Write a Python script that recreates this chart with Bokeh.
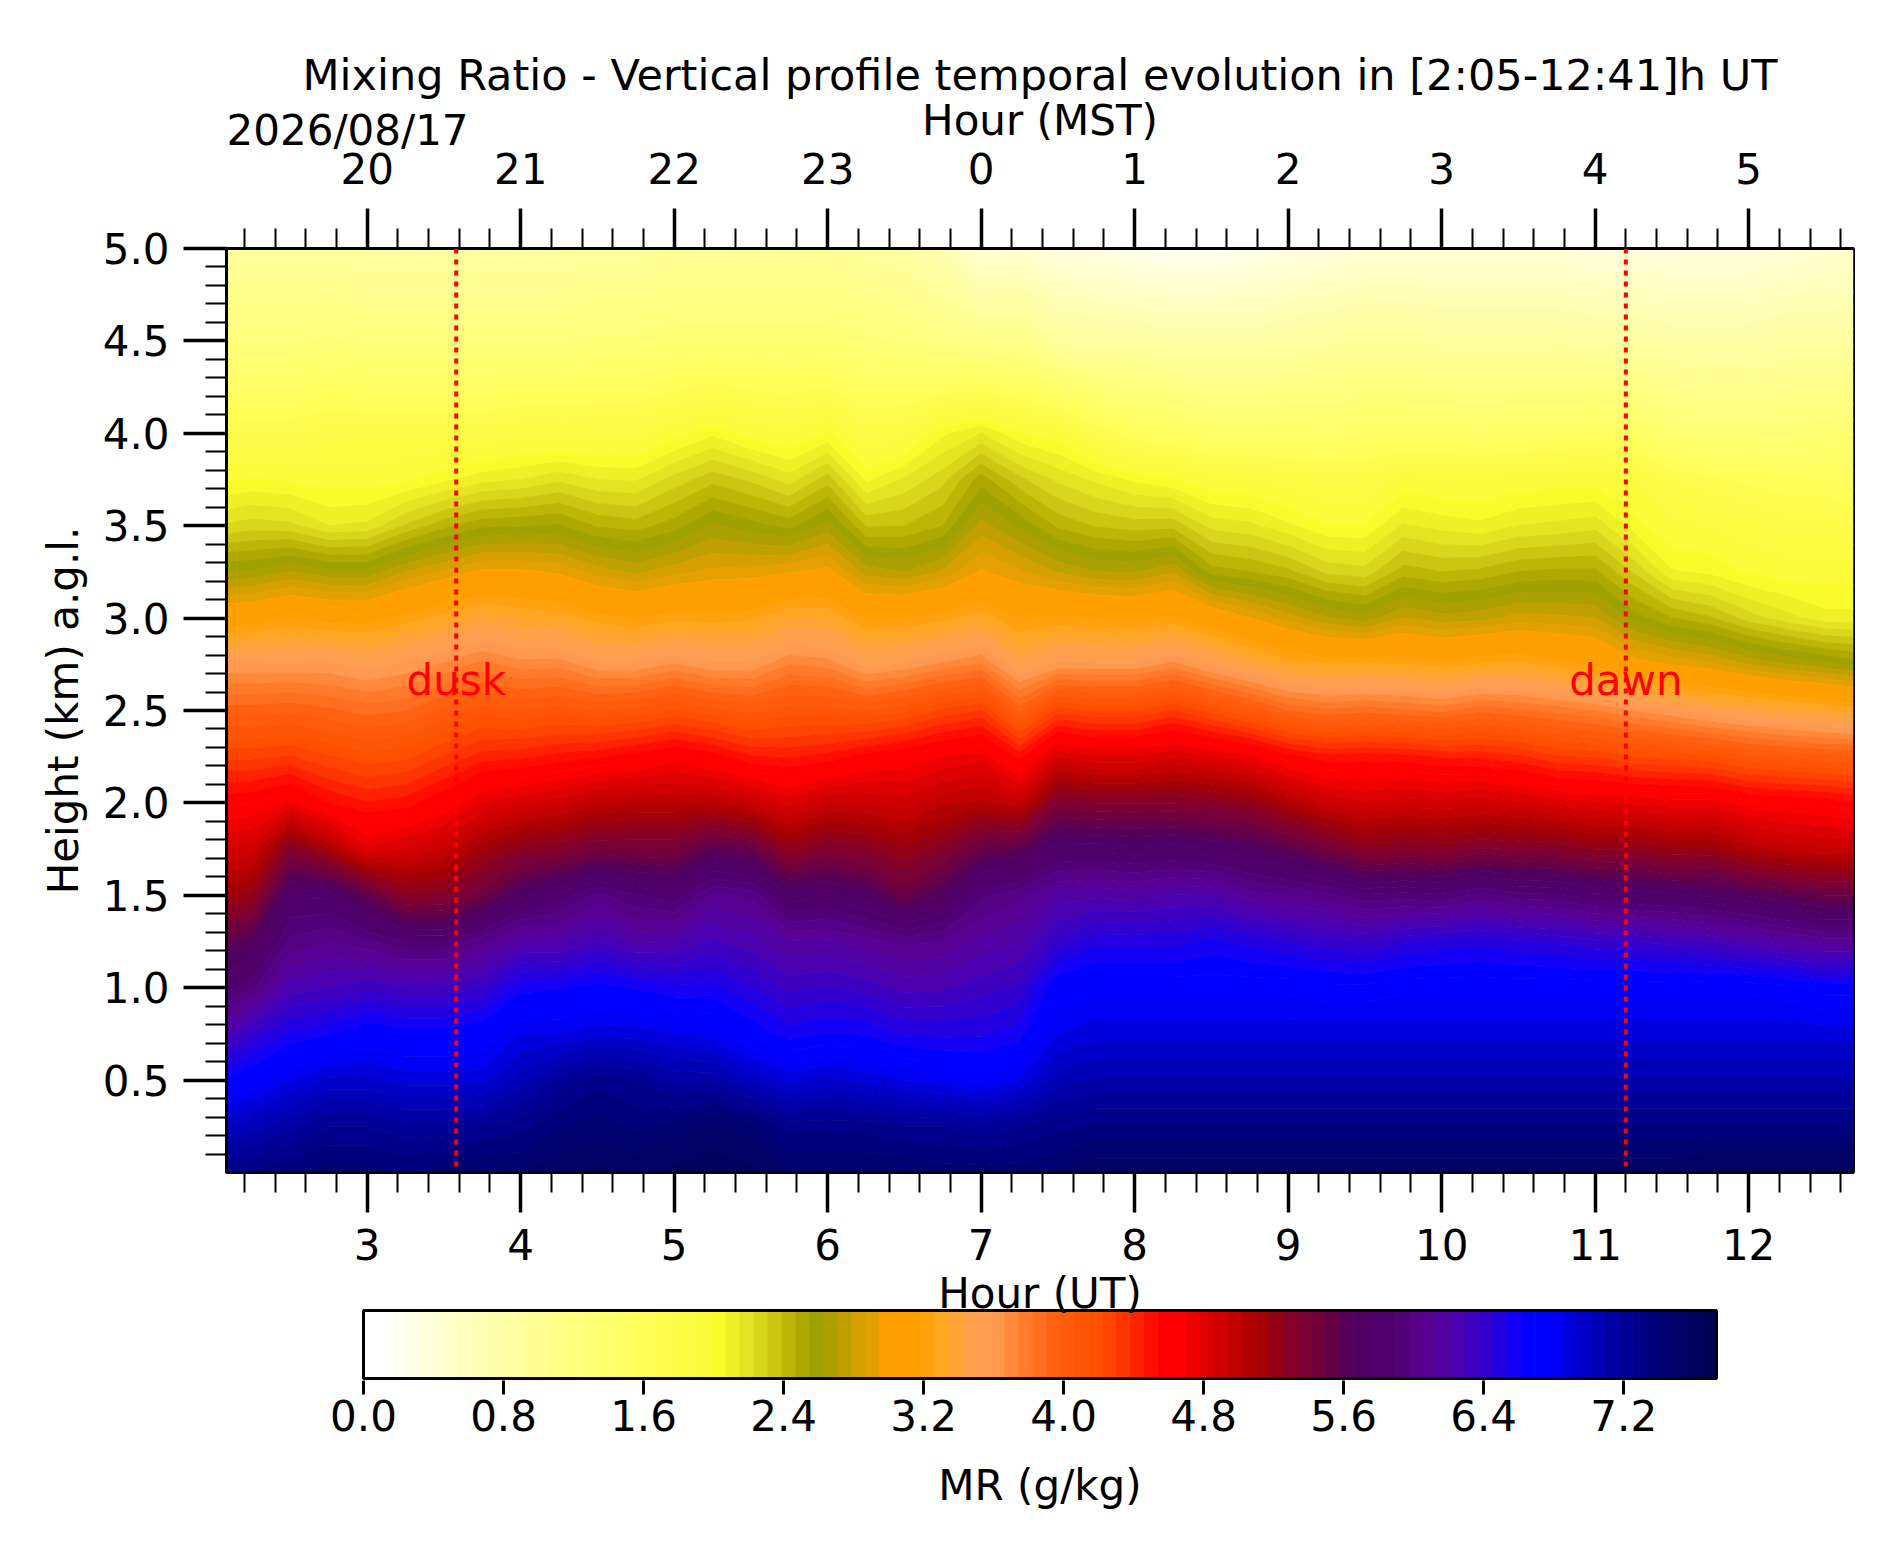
import numpy as np
from bokeh.plotting import figure
from bokeh.layouts import column
from bokeh.models import FixedTicker, LinearAxis, Span, Title, PrintfTickFormatter
from bokeh.core.properties import value
from bokeh.embed import file_html
from bokeh.resources import INLINE

FONT = "DejaVu Sans"
FS = "42px"
TITLE_FS = "43px"

# time of each lidar profile (h UT) and the height grid (km a.g.l.)
times_ut = [2.083, 2.25, 2.5, 2.75, 3.0, 3.25, 3.5, 3.75, 4.0, 4.25, 4.5, 4.75,
            5.0, 5.25, 5.5, 5.75, 6.0, 6.25, 6.5, 6.75, 7.0, 7.25, 7.5, 7.75,
            8.0, 8.25, 8.5, 8.75, 9.0, 9.25, 9.5, 9.75, 10.0, 10.25, 10.5, 10.75,
            11.0, 11.25, 11.5, 11.75, 12.0, 12.25, 12.5, 12.683]
heights_km = [0.0, 0.25, 0.5, 0.75, 1.0, 1.25, 1.5, 1.75, 2.0, 2.25, 2.5, 2.75,
              3.0, 3.25, 3.5, 3.75, 4.0, 4.5, 5.0]

# mixing ratio profiles (g/kg), bottom to top, one per time above
p0205 = [7.30, 7.00, 6.65, 6.25, 5.85, 5.55, 5.16, 4.88, 4.60, 4.28, 3.94, 3.60, 3.09, 2.63, 2.24, 1.98, 1.75, 1.25, 0.90]
p0215 = [7.35, 7.05, 6.70, 6.40, 5.95, 5.64, 5.20, 4.90, 4.62, 4.28, 3.94, 3.60, 3.11, 2.64, 2.27, 2.00, 1.75, 1.25, 0.90]
p0230 = [7.40, 7.15, 6.85, 6.55, 6.25, 6.00, 5.80, 5.33, 4.71, 4.31, 3.96, 3.60, 3.18, 2.71, 2.25, 1.98, 1.75, 1.25, 0.90]
p0245 = [7.45, 7.25, 6.95, 6.60, 6.30, 6.05, 5.80, 5.10, 4.54, 4.23, 3.92, 3.60, 3.14, 2.65, 2.15, 1.95, 1.80, 1.30, 0.90]
p0300 = [7.45, 7.25, 6.95, 6.70, 6.35, 5.99, 5.55, 4.80, 4.47, 4.17, 3.87, 3.55, 3.13, 2.65, 2.17, 1.95, 1.80, 1.25, 0.85]
p0315 = [7.40, 7.20, 6.90, 6.65, 6.31, 5.89, 5.28, 4.87, 4.50, 4.20, 3.90, 3.60, 3.22, 2.79, 2.32, 1.98, 1.80, 1.25, 0.85]
p0330 = [7.45, 7.20, 6.90, 6.65, 6.31, 5.89, 5.30, 4.95, 4.62, 4.31, 4.00, 3.68, 3.30, 2.88, 2.44, 2.05, 1.80, 1.25, 0.85]
p0345 = [7.50, 7.25, 6.90, 6.70, 6.38, 6.04, 5.46, 5.15, 4.78, 4.42, 4.10, 3.77, 3.40, 2.97, 2.53, 2.12, 1.80, 1.25, 0.85]
p0400 = [7.50, 7.30, 7.05, 6.85, 6.58, 6.20, 5.72, 5.27, 4.85, 4.44, 4.07, 3.70, 3.34, 2.97, 2.54, 2.15, 1.85, 1.25, 0.85]
p0415 = [7.55, 7.40, 7.20, 6.85, 6.60, 6.20, 5.84, 5.32, 4.91, 4.49, 4.10, 3.71, 3.32, 2.93, 2.56, 2.21, 1.85, 1.25, 0.85]
p0430 = [7.60, 7.45, 7.30, 6.90, 6.65, 6.30, 6.00, 5.42, 5.00, 4.52, 4.06, 3.60, 3.22, 2.83, 2.46, 2.15, 1.85, 1.30, 0.90]
p0445 = [7.55, 7.40, 7.25, 6.90, 6.60, 6.20, 5.90, 5.42, 5.02, 4.58, 4.09, 3.60, 3.18, 2.77, 2.43, 2.14, 1.85, 1.30, 0.90]
p0500 = [7.60, 7.45, 7.15, 6.85, 6.55, 6.21, 5.84, 5.42, 5.02, 4.64, 4.16, 3.67, 3.23, 2.84, 2.51, 2.26, 1.95, 1.35, 0.95]
p0515 = [7.65, 7.50, 7.15, 6.80, 6.56, 6.31, 6.07, 5.59, 5.02, 4.58, 4.09, 3.60, 3.22, 2.89, 2.64, 2.36, 2.05, 1.35, 0.95]
p0530 = [7.60, 7.45, 7.00, 6.68, 6.46, 6.25, 6.03, 5.52, 4.94, 4.47, 4.04, 3.60, 3.24, 2.90, 2.58, 2.29, 1.95, 1.35, 0.95]
p0545 = [7.50, 7.30, 6.90, 6.57, 6.35, 6.14, 5.76, 5.23, 4.83, 4.45, 4.10, 3.74, 3.35, 2.94, 2.52, 2.19, 1.90, 1.35, 0.95]
p0600 = [7.50, 7.30, 6.95, 6.62, 6.38, 6.15, 5.79, 5.34, 4.94, 4.49, 4.10, 3.71, 3.34, 2.98, 2.66, 2.35, 2.00, 1.35, 0.95]
p0615 = [7.50, 7.30, 6.90, 6.60, 6.34, 6.09, 5.69, 5.29, 4.94, 4.58, 4.06, 3.55, 3.17, 2.75, 2.38, 2.05, 1.80, 1.30, 0.90]
p0630 = [7.50, 7.25, 6.85, 6.52, 6.27, 6.03, 5.50, 5.19, 4.90, 4.63, 4.13, 3.60, 3.18, 2.71, 2.39, 2.16, 1.85, 1.25, 0.85]
p0645 = [7.45, 7.25, 6.80, 6.51, 6.28, 6.06, 5.67, 5.31, 5.00, 4.70, 4.24, 3.68, 3.23, 2.80, 2.47, 2.28, 2.05, 1.15, 0.70]
p0700 = [7.45, 7.20, 6.75, 6.52, 6.34, 6.16, 5.95, 5.52, 5.04, 4.74, 4.31, 3.75, 3.32, 2.96, 2.74, 2.51, 2.15, 1.10, 0.40]
p0715 = [7.45, 7.25, 6.85, 6.57, 6.39, 6.21, 6.03, 5.58, 4.96, 4.51, 3.95, 3.48, 3.17, 2.88, 2.61, 2.33, 2.00, 1.10, 0.45]
p0730 = [7.50, 7.30, 7.05, 6.85, 6.70, 6.40, 6.17, 5.79, 5.36, 4.86, 4.26, 3.60, 3.20, 2.78, 2.45, 2.21, 1.95, 0.90, 0.35]
p0745 = [7.55, 7.35, 7.10, 6.90, 6.75, 6.50, 6.20, 5.79, 5.33, 4.79, 4.21, 3.60, 3.18, 2.71, 2.38, 2.13, 1.75, 0.85, 0.30]
p0800 = [7.55, 7.35, 7.10, 6.90, 6.75, 6.50, 6.18, 5.77, 5.33, 4.79, 4.21, 3.60, 3.16, 2.70, 2.35, 2.05, 1.60, 0.85, 0.25]
p0815 = [7.55, 7.35, 7.10, 6.90, 6.75, 6.50, 6.22, 5.79, 5.33, 4.85, 4.31, 3.69, 3.20, 2.78, 2.36, 2.00, 1.55, 0.80, 0.20]
p0830 = [7.55, 7.35, 7.10, 6.90, 6.75, 6.55, 6.22, 5.74, 5.30, 4.79, 4.18, 3.55, 3.08, 2.51, 2.20, 1.92, 1.45, 0.80, 0.20]
p0845 = [7.55, 7.35, 7.10, 6.90, 6.75, 6.50, 6.10, 5.67, 5.24, 4.72, 4.05, 3.43, 2.95, 2.47, 2.17, 1.90, 1.45, 0.80, 0.25]
p0900 = [7.55, 7.35, 7.10, 6.90, 6.75, 6.45, 6.05, 5.58, 5.07, 4.57, 3.90, 3.32, 2.83, 2.41, 2.09, 1.85, 1.45, 0.85, 0.30]
p0915 = [7.55, 7.35, 7.10, 6.90, 6.72, 6.40, 6.00, 5.44, 4.93, 4.49, 3.84, 3.27, 2.72, 2.29, 2.00, 1.80, 1.45, 0.90, 0.35]
p0930 = [7.55, 7.35, 7.10, 6.90, 6.72, 6.37, 5.91, 5.28, 4.87, 4.50, 3.87, 3.27, 2.66, 2.26, 2.00, 1.80, 1.50, 0.95, 0.40]
p0945 = [7.55, 7.35, 7.10, 6.90, 6.75, 6.44, 5.93, 5.32, 4.90, 4.49, 3.84, 3.27, 2.79, 2.43, 2.16, 1.93, 1.50, 0.95, 0.40]
p1000 = [7.55, 7.35, 7.10, 6.90, 6.75, 6.48, 5.91, 5.29, 4.89, 4.45, 3.80, 3.22, 2.74, 2.39, 2.12, 1.90, 1.50, 0.90, 0.40]
p1015 = [7.55, 7.35, 7.10, 6.90, 6.75, 6.50, 6.00, 5.35, 4.91, 4.44, 3.88, 3.27, 2.76, 2.41, 2.09, 1.90, 1.45, 0.90, 0.40]
p1030 = [7.55, 7.35, 7.10, 6.90, 6.75, 6.46, 5.93, 5.33, 4.88, 4.40, 3.84, 3.29, 2.82, 2.47, 2.15, 1.93, 1.50, 0.90, 0.40]
p1045 = [7.55, 7.35, 7.10, 6.90, 6.75, 6.44, 5.92, 5.32, 4.82, 4.31, 3.79, 3.23, 2.81, 2.49, 2.17, 1.95, 1.50, 0.90, 0.40]
p1100 = [7.55, 7.35, 7.10, 6.90, 6.75, 6.39, 5.84, 5.25, 4.79, 4.29, 3.74, 3.16, 2.79, 2.49, 2.20, 1.95, 1.55, 0.85, 0.35]
p1115 = [7.55, 7.35, 7.10, 6.90, 6.75, 6.38, 5.79, 5.25, 4.76, 4.22, 3.66, 3.00, 2.59, 2.30, 2.03, 1.90, 1.50, 0.85, 0.35]
p1130 = [7.55, 7.35, 7.10, 6.90, 6.75, 6.34, 5.76, 5.19, 4.74, 4.19, 3.59, 2.94, 2.47, 2.08, 1.92, 1.75, 1.35, 0.80, 0.35]
p1145 = [7.60, 7.35, 7.10, 6.90, 6.75, 6.29, 5.72, 5.19, 4.74, 4.16, 3.50, 2.88, 2.40, 2.05, 1.90, 1.70, 1.30, 0.80, 0.35]
p1200 = [7.60, 7.35, 7.10, 6.90, 6.75, 6.23, 5.65, 5.06, 4.65, 4.08, 3.45, 2.78, 2.27, 1.98, 1.85, 1.65, 1.30, 0.80, 0.35]
p1215 = [7.60, 7.35, 7.10, 6.90, 6.72, 6.16, 5.58, 4.98, 4.62, 4.04, 3.39, 2.71, 2.18, 1.95, 1.80, 1.60, 1.30, 0.85, 0.40]
p1230 = [7.60, 7.35, 7.10, 6.90, 6.65, 6.10, 5.50, 4.95, 4.60, 4.00, 3.35, 2.65, 2.10, 1.95, 1.80, 1.60, 1.35, 0.85, 0.45]
p1241 = [7.60, 7.35, 7.10, 6.90, 6.65, 6.10, 5.50, 4.95, 4.55, 4.00, 3.30, 2.60, 2.10, 1.95, 1.75, 1.55, 1.35, 0.85, 0.45]

profiles = [p0205, p0215, p0230, p0245, p0300, p0315, p0330, p0345, p0400, p0415,
            p0430, p0445, p0500, p0515, p0530, p0545, p0600, p0615, p0630, p0645,
            p0700, p0715, p0730, p0745, p0800, p0815, p0830, p0845, p0900, p0915,
            p0930, p0945, p1000, p1015, p1030, p1045, p1100, p1115, p1130, p1145,
            p1200, p1215, p1230, p1241]

# axis ticks / labels
ut_major = [3, 4, 5, 6, 7, 8, 9, 10, 11, 12]
mst_labels = ["20", "21", "22", "23", "0", "1", "2", "3", "4", "5"]
height_ticks = [0.5, 1.0, 1.5, 2.0, 2.5, 3.0, 3.5, 4.0, 4.5, 5.0]
cbar_ticks = [0.0, 0.8, 1.6, 2.4, 3.2, 4.0, 4.8, 5.6, 6.4, 7.2]
dusk_ut = 3.58
dawn_ut = 11.2
mark_height = 2.66
date_text = "2026/08/17"
mr_max = 7.73

# colour map anchors (g/kg -> colour)
cmap_pos = [0.0, 0.1, 0.4, 0.8, 1.2, 1.6, 1.96, 2.05, 2.14, 2.22, 2.30, 2.38, 2.46, 2.54,
            2.61, 2.69, 2.77, 2.84, 2.92, 2.97, 3.18, 3.30, 3.50, 3.62, 3.75, 3.85, 3.95,
            4.19, 4.37, 4.55, 4.67, 4.80, 5.00, 5.10, 5.24, 5.34, 5.50, 5.65, 5.90, 6.08,
            6.26, 6.42, 6.55, 6.65, 6.78, 6.93, 7.08, 7.26, 7.44, 7.73]
cmap_hex = ["#ffffff", "#ffffff", "#ffffd6", "#ffffa6", "#ffff80", "#fefe5a", "#fcfc3a",
            "#fbfb28", "#ebeb25", "#e2e020", "#d4d018", "#c8c010", "#b8b000", "#a8a400",
            "#9ca000", "#b0a000", "#c4a000", "#d8a000", "#e6a000", "#ffa000", "#ffa000",
            "#ffa520", "#ffa050", "#ff9a50", "#ff8030", "#ff7020", "#ff6010", "#ff5000",
            "#ff3000", "#ff0000", "#ff0000", "#e00000", "#c00000", "#a80000", "#900018",
            "#800030", "#6a0040", "#500060", "#500070", "#580090", "#4a00b0", "#3000d0",
            "#1a00f0", "#0000ff", "#0000ff", "#0000d0", "#0000b0", "#000090", "#000070",
            "#000050"]

levels = np.linspace(0.0, mr_max, 98)
mids = 0.5 * (levels[:-1] + levels[1:])
rgb = np.array([[int(h[i:i + 2], 16) for i in (1, 3, 5)] for h in cmap_hex], dtype=float)
chan = [np.interp(mids, cmap_pos, rgb[:, k]) for k in range(3)]
palette = ["#%02x%02x%02x" % (int(round(r)), int(round(g)), int(round(b)))
           for r, g, b in zip(*chan)]
line_palette = [palette[min(i, len(palette) - 1)] for i in range(len(levels))]

z = np.column_stack(profiles)

x0, x1 = 2.0833, 12.6833
p = figure(width=1884, height=1269, x_range=(x0, x1), y_range=(0, 5),
           title="Mixing Ratio - Vertical profile temporal evolution in [2:05-12:41]h UT",
           output_backend="svg", toolbar_location=None,
           min_border_left=226, min_border_right=31, min_border_top=248, min_border_bottom=97)
p.grid.visible = False
p.background_fill_color = "white"
p.outline_line_color = "black"
p.outline_line_width = 3
p.outline_line_alpha = 1.0

p.title.text_font = FONT
p.title.text_font_size = TITLE_FS
p.title.text_font_style = "normal"
p.title.text_color = "black"
p.title.align = "center"
p.title.standoff = -15

p.contour(x=times_ut, y=heights_km, z=z, levels=levels,
          fill_color=palette, line_color=line_palette, line_width=1.2)

minor_ut = [round(2.2 + 0.2 * i, 1) for i in range(53)]
minor_ut = [t for t in minor_ut if abs(t - round(t)) > 0.05]
minor_h = [round(0.1 * i, 1) for i in range(1, 50)]
minor_h = [h for h in minor_h if abs(h * 2 - round(h * 2)) > 0.05]

bottom = p.below[0]
bottom.ticker = FixedTicker(ticks=ut_major, minor_ticks=minor_ut)
bottom.major_label_standoff = 16

left = p.left[0]
left.ticker = FixedTicker(ticks=height_ticks, minor_ticks=minor_h)
left.formatter = PrintfTickFormatter(format="%.1f")
left.axis_label = "Height (km) a.g.l."
left.major_label_standoff = 14
left.axis_label_standoff = 12

top = LinearAxis(ticker=FixedTicker(ticks=ut_major, minor_ticks=minor_ut),
                 major_label_overrides={t: s for t, s in zip(ut_major, mst_labels)},
                 axis_label="Hour (MST)")
top.major_label_standoff = 25
top.axis_label_standoff = 5
p.add_layout(top, "above")

for ax in (bottom, left, top):
    ax.major_tick_out = 40
    ax.major_tick_in = 0
    ax.minor_tick_out = 20
    ax.minor_tick_in = 0
    ax.major_tick_line_width = 3.5
    ax.minor_tick_line_width = 2
    ax.major_tick_line_color = "black"
    ax.minor_tick_line_color = "black"
    ax.axis_line_width = 3
    ax.axis_line_color = "black"
    ax.major_label_text_font = FONT
    ax.major_label_text_font_size = FS
    ax.major_label_text_color = "black"
    ax.axis_label_text_font = FONT
    ax.axis_label_text_font_size = FS
    ax.axis_label_text_font_style = "normal"
    ax.axis_label_text_color = "black"
left.major_tick_out = 43
left.minor_tick_out = 21

# date written at the left end of the MST axis-label line
p.add_layout(Title(text=date_text, align="left", standoff=-125, text_font=FONT,
                   text_font_size=FS, text_font_style="normal", text_color="black"),
             "above")

for loc in (dusk_ut, dawn_ut):
    p.add_layout(Span(location=loc, dimension="height", line_color="red",
                      line_dash="5 6", line_width=4))

p.text(x=[dusk_ut, dawn_ut], y=[mark_height, mark_height], text=["dusk", "dawn"],
       text_color="red", text_font=value(FONT), text_font_size=value(FS),
       text_align="center", text_baseline="alphabetic")

# colour bar panel (frame shares the borders of the main plot in the column layout);
# the band above the bar carries the UT axis title
px_per_unit = 1353 / mr_max
bar_px, above_px, below_px = 68, 41, 2
cb = figure(width=1884, height=256,
            x_range=(-137 / px_per_unit, mr_max + 137 / px_per_unit),
            y_range=(-below_px / bar_px, 1 + above_px / bar_px),
            output_backend="svg", toolbar_location=None, y_axis_location=None,
            min_border_left=226, min_border_right=31, min_border_top=0, min_border_bottom=145)
cb.grid.visible = False
cb.outline_line_color = None
cb.quad(left=levels[:-1], right=levels[1:], bottom=0, top=1,
        fill_color=palette, line_color=palette, line_width=1)
cb.quad(left=[levels[0]], right=[levels[-1]], bottom=[0], top=[1],
        fill_color=None, line_color="black", line_width=3)
cb.text(x=[mr_max / 2], y=[1 + 17 / bar_px], text=["Hour (UT)"], text_color="black",
        text_font=value(FONT), text_font_size=value(FS),
        text_align="center", text_baseline="middle")
cax = cb.below[0]
cax.ticker = FixedTicker(ticks=cbar_ticks)
cax.formatter = PrintfTickFormatter(format="%.1f")
cax.axis_label = "MR (g/kg)"
cax.major_tick_out = 14
cax.major_tick_in = 0
cax.major_tick_line_width = 3
cax.minor_tick_line_color = None
cax.axis_line_color = None
cax.major_label_standoff = 5
cax.axis_label_standoff = 27
cax.major_label_text_font = FONT
cax.major_label_text_font_size = FS
cax.major_label_text_color = "black"
cax.axis_label_text_font = FONT
cax.axis_label_text_font_size = FS
cax.axis_label_text_font_style = "normal"
cax.axis_label_text_color = "black"

layout = column(p, cb)
open("out.html", "w").write(file_html(layout, INLINE))
